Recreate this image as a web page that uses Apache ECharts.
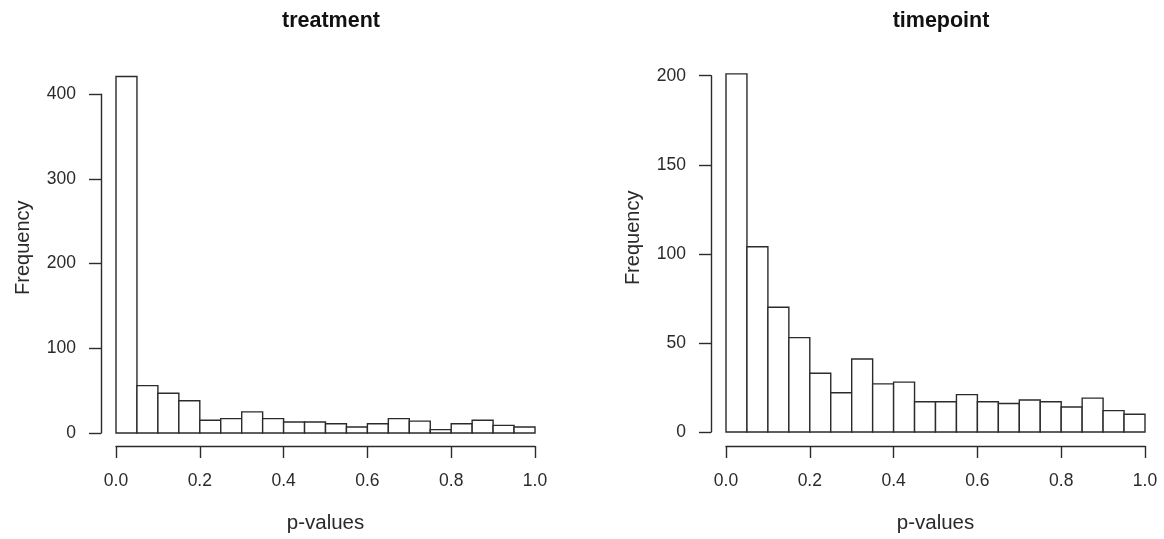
<!DOCTYPE html>
<html>
<head>
<meta charset="utf-8">
<style>
  html, body { margin: 0; padding: 0; background: #fff; }
  #chart { width: 1164px; height: 539px; }
</style>
<script src="https://cdn.jsdelivr.net/npm/echarts@6/dist/echarts.min.js"></script>
</head>
<body>
<div id="chart"></div>
<script>
// histogram bins (p-value edges), 20 bins of 0.05
const binEdges = [0, 0.05, 0.1, 0.15, 0.2, 0.25, 0.3, 0.35, 0.4, 0.45, 0.5,
  0.55, 0.6, 0.65, 0.7, 0.75, 0.8, 0.85, 0.9, 0.95, 1.0]
const treatmentCounts = [421, 56, 47, 38, 15, 17, 25, 17, 13, 13, 11, 7, 11, 17, 14, 4, 11, 15, 9, 7]
const timepointCounts = [201, 104, 70, 53, 33, 22, 41, 27, 28, 17, 17, 21, 17, 16, 18, 17, 14, 19, 12, 10]
const xTicks = [0, 0.2, 0.4, 0.6, 0.8, 1.0]
const treatmentYTicks = [0, 100, 200, 300, 400]
const timepointYTicks = [0, 50, 100, 150, 200]

const FONT = '"Liberation Sans", Arial, sans-serif'
const INK = '#2b2b2b'
const TEXT = '#2a2a2a'
const LINE_W = 1.4

const chart = echarts.init(document.getElementById('chart'), null, { renderer: 'canvas' })

function binData(counts) {
  return counts.map((c, i) => [binEdges[i], binEdges[i + 1], c])
}

function renderBin(params, api) {
  const top = api.coord([api.value(0), api.value(2)])
  const base = api.coord([api.value(1), 0])
  return {
    type: 'rect',
    shape: { x: top[0], y: top[1], width: base[0] - top[0], height: base[1] - top[1] },
    style: { fill: '#fff', stroke: INK, lineWidth: LINE_W },
  }
}

function xAxisFor(gridIndex, offset) {
  return {
    type: 'value',
    gridIndex,
    min: xTicks[0],
    max: xTicks[xTicks.length - 1],
    interval: 0.2,
    offset,
    name: 'p-values',
    nameLocation: 'middle',
    nameGap: 67,
    nameTextStyle: { fontFamily: FONT, fontSize: 20.5, color: TEXT },
    axisLine: { show: true, onZero: false, lineStyle: { color: INK, width: LINE_W } },
    axisTick: { show: true, length: 12, lineStyle: { color: INK, width: LINE_W } },
    axisLabel: { margin: 26, fontFamily: FONT, fontSize: 17.5, color: TEXT,
      formatter: v => v.toFixed(1), showMinLabel: true, showMaxLabel: true },
    splitLine: { show: false },
  }
}

function yAxisFor(gridIndex, ticks, offset) {
  return {
    type: 'value',
    gridIndex,
    min: ticks[0],
    max: ticks[ticks.length - 1],
    interval: ticks[1] - ticks[0],
    offset,
    name: 'Frequency',
    nameLocation: 'middle',
    nameGap: 68,
    nameTextStyle: { fontFamily: FONT, fontSize: 20, color: TEXT, padding: [0, 0, 0, 32] },
    axisLine: { show: true, onZero: false, lineStyle: { color: INK, width: LINE_W } },
    axisTick: { show: true, length: 12, lineStyle: { color: INK, width: LINE_W } },
    axisLabel: { margin: 25, fontFamily: FONT, fontSize: 17.5, color: TEXT },
    splitLine: { show: false },
  }
}

const option = {
  animation: false,
  backgroundColor: '#fff',
  title: [
    { text: 'treatment', left: 326, top: 5, textAlign: 'center',
      textStyle: { fontFamily: FONT, fontSize: 21.5, fontWeight: 'bold', color: '#111' } },
    { text: 'timepoint', left: 936, top: 5, textAlign: 'center',
      textStyle: { fontFamily: FONT, fontSize: 21.5, fontWeight: 'bold', color: '#111' } },
  ],
  grid: [
    { left: 116, width: 419, top: 94.3, height: 339.2 },
    { left: 726, width: 419, top: 75.7, height: 356.6 },
  ],
  xAxis: [xAxisFor(0, 13), xAxisFor(1, 14)],
  yAxis: [yAxisFor(0, treatmentYTicks, 15), yAxisFor(1, timepointYTicks, 15)],
  series: [
    {
      type: 'custom', name: 'treatment', xAxisIndex: 0, yAxisIndex: 0,
      renderItem: renderBin, encode: { x: [0, 1], y: 2 },
      data: binData(treatmentCounts), clip: false,
    },
    {
      type: 'custom', name: 'timepoint', xAxisIndex: 1, yAxisIndex: 1,
      renderItem: renderBin, encode: { x: [0, 1], y: 2 },
      data: binData(timepointCounts), clip: false,
    },
  ],
}

chart.setOption(option)
</script>
</body>
</html>
